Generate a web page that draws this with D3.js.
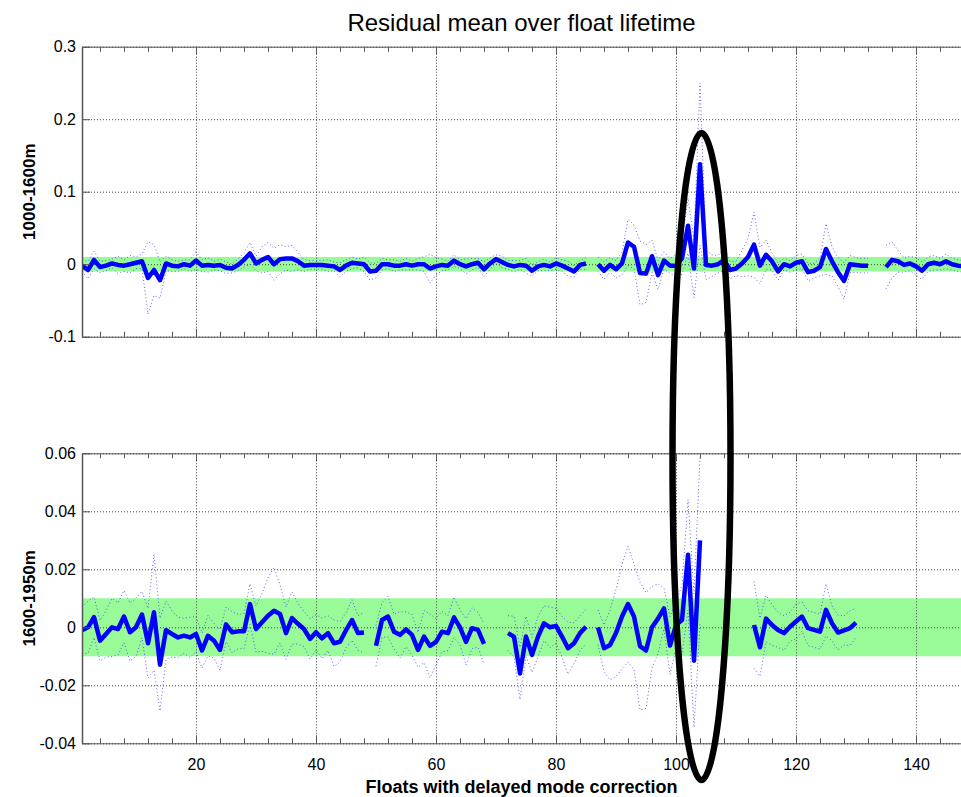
<!DOCTYPE html>
<html>
<head>
<meta charset="utf-8">
<script src="https://cdn.jsdelivr.net/npm/d3@7"></script>
<style>
  body { margin: 0; background: #fff; }
  svg { display: block; font-family: "Liberation Sans", Arial, sans-serif; }
  .grid line { stroke: #444; stroke-dasharray: 1,2; }
  .grid path { display: none; }
  .frame path, .frame line { stroke: #555; }
  .ticklbl text { font-size: 16px; fill: #000; }
</style>
</head>
<body>
<svg id="chart"></svg>
<script>
// float index
var floats = d3.range(1, 149);

// 1000-1600m residual mean and spread
var topMean = [
  -0.002, -0.008, 0.006, -0.004, -0.002, 0.001, -0.001, -0.002, 0, 0.002,
  0.004, -0.019, -0.008, -0.022, 0.001, -0.002, -0.003, 0, -0.002, 0.005,
  -0.002, -0.001, -0.002, -0.001, -0.005, -0.006, -0.001, 0.006, 0.015, 0.001,
  0.006, 0.010, 0, 0.007, 0.008, 0.008, 0.004, -0.002, -0.001, -0.001,
  -0.001, -0.002, -0.003, -0.008, -0.002, 0.002, 0.001, 0, -0.010, -0.009,
  0, 0, -0.002, -0.002, 0, -0.002, 0, 0, -0.006, -0.003,
  -0.001, -0.002, 0.005, 0, -0.003, 0, 0.002, -0.007, 0.001, 0.007,
  0.003, -0.001, -0.003, -0.001, -0.002, -0.009, -0.003, -0.001, -0.003, 0.001,
  -0.002, -0.006, -0.010, -0.001, 0.001, null, 0, -0.009, -0.001, -0.007,
  0.001, 0.030, 0.024, -0.012, -0.013, 0.011, -0.015, 0.005, -0.002, -0.002,
  0.008, 0.053, -0.006, 0.138, -0.001, -0.002, 0, 0.006, -0.008, -0.006,
  0.001, 0.010, 0.027, -0.002, 0.013, 0.004, -0.010, 0, -0.003, 0.002,
  0.004, -0.011, -0.009, -0.004, 0.021, 0.004, -0.011, -0.023, 0, -0.001,
  -0.002, -0.002, null, null, -0.004, 0.006, 0.004, -0.001, 0.001, -0.003,
  -0.009, 0, 0.002, 0, 0.004, 0, -0.002, -0.003
];
var topStd = [
  0.008, 0.012, 0.012, 0.008, 0.007, 0.006, 0.012, 0.008, 0.012, 0.008,
  0.010, 0.050, 0.035, 0.025, 0.010, 0.008, 0.007, 0.006, 0.008, 0.012,
  0.008, 0.010, 0.006, 0.008, 0.008, 0.006, 0.008, 0.010, 0.015, 0.010,
  0.018, 0.020, 0.022, 0.020, 0.016, 0.018, 0.012, 0.008, 0.006, 0.006,
  0.006, 0.008, 0.006, 0.010, 0.008, 0.008, 0.006, 0.010, 0.012, 0.010,
  0.008, 0.006, 0.008, 0.006, 0.008, 0.006, 0.008, 0.010, 0.020, 0.012,
  0.008, 0.006, 0.008, 0.006, 0.010, 0.008, 0.006, 0.010, 0.008, 0.006,
  0.008, 0.006, 0.008, 0.006, 0.010, 0.008, 0.006, 0.008, 0.006, 0.008,
  0.008, 0.010, 0.008, 0.006, 0.008, null, 0.010, 0.012, 0.010, 0.012,
  0.016, 0.032, 0.030, 0.044, 0.040, 0.022, 0.020, 0.012, 0.010, 0.015,
  0.022, 0.038, 0.040, 0.112, 0.020, 0.015, 0.012, 0.015, 0.012, 0.010,
  0.018, 0.026, 0.045, 0.025, 0.020, 0.012, 0.012, 0.008, 0.008, 0.010,
  0.010, 0.012, 0.010, 0.012, 0.035, 0.020, 0.020, 0.025, 0.012, 0.010,
  0.010, 0.010, null, null, 0.030, 0.025, 0.015, 0.010, 0.010, 0.012,
  0.012, 0.010, 0.010, 0.008, 0.010, 0.008, 0.008, 0.008
];

// 1600-1950m residual mean and spread
var botMean = [
  -0.001, 0, 0.0035, -0.0046, -0.0023, 0, -0.0006, 0.0037, -0.0017, 0,
  0.0044, -0.0055, 0.0052, -0.0129, -0.001, -0.0023, -0.0035, -0.0029, -0.0035, -0.0023,
  -0.008, -0.0029, -0.0046, -0.0078, 0.001, -0.0017, -0.0014, -0.0014, 0.008, -0.0006,
  0.0017, 0.004, 0.0057, 0.0046, -0.002, 0.0032, 0.0012, -0.0006, -0.004, -0.0017,
  -0.0038, -0.002, -0.0055, -0.005, -0.001, 0.0025, -0.002, -0.0018, null, -0.0064,
  0.0025, 0.0037, -0.0015, -0.0026, -0.0007, -0.0026, -0.0078, -0.0032, -0.0064, -0.005,
  -0.0015, -0.002, 0.0034, 0, -0.005, -0.0003, -0.0009, -0.0057, null, null,
  null, -0.002, -0.0032, -0.0159, -0.0032, -0.0095, -0.0032, 0.0014, 0, 0.0005,
  -0.0032, -0.0072, -0.0055, -0.002, 0.0002, null, 0, -0.0072, -0.0061, -0.002,
  0.0037, 0.008, 0.0037, -0.0065, -0.008, 0, 0.003, 0.0065, -0.0063, 0.0008,
  0.0025, 0.025, -0.0115, 0.030, null, null, null, null, null, null,
  null, null, 0.0008, -0.0069, 0.003, 0.0008, -0.0009, -0.002, 0.0002, 0.002,
  0.0037, -0.0003, -0.0009, -0.0015, 0.006, 0.0014, -0.0018, -0.0011, -0.0003, 0.0016,
  null, null, null, null, null, null, null, null, null, null,
  null, null, null, null, null, null, null, null
];
var botStd = [
  0.008, 0.009, 0.007, 0.007, 0.008, 0.010, 0.009, 0.009, 0.010, 0.010,
  0.008, 0.012, 0.020, 0.016, 0.010, 0.008, 0.007, 0.006, 0.007, 0.006,
  0.006, 0.007, 0.006, 0.007, 0.006, 0.007, 0.006, 0.006, 0.007, 0.008,
  0.010, 0.013, 0.015, 0.010, 0.009, 0.009, 0.007, 0.006, 0.007, 0.006,
  0.007, 0.006, 0.008, 0.007, 0.006, 0.007, 0.006, 0.007, null, 0.007,
  0.006, 0.007, 0.006, 0.008, 0.006, 0.007, 0.006, 0.009, 0.011, 0.008,
  0.007, 0.006, 0.007, 0.006, 0.008, 0.007, 0.006, 0.007, null, null,
  null, 0.006, 0.007, 0.009, 0.007, 0.006, 0.007, 0.006, 0.007, 0.006,
  0.007, 0.009, 0.007, 0.006, 0.006, null, 0.006, 0.008, 0.012, 0.015,
  0.018, 0.020, 0.018, 0.022, 0.020, 0.014, 0.012, 0.007, 0.010, 0.008,
  0.012, 0.019, 0.023, 0.029, null, null, null, null, null, null,
  null, null, 0.015, 0.010, 0.008, 0.007, 0.006, 0.006, 0.005, 0.006,
  0.005, 0.006, 0.006, 0.006, 0.009, 0.006, 0.006, 0.005, 0.006, 0.005,
  null, null, null, null, null, null, null, null, null, null,
  null, null, null, null, null, null, null, null
];

var xMajor = [20, 40, 60, 80, 100, 120, 140];
var xMinor = d3.range(4, 148, 4);
var topTicks = [-0.1, 0, 0.1, 0.2, 0.3];
var botTicks = [-0.04, -0.02, 0, 0.02, 0.04, 0.06];
var topBand = [-0.01, 0.01];
var botBand = [-0.01, 0.01];

var W = 961, H = 797;
var left = 82, right = 961;

var svg = d3.select("#chart").attr("width", W).attr("height", H);

var x = d3.scaleLinear().domain([1, 147.5]).range([left, right]);

svg.append("defs").append("clipPath").attr("id", "clip")
  .append("rect").attr("x", left).attr("y", 0).attr("width", right - left).attr("height", H);

// plain hyphen for negatives, like the original
var yfmt = (d) => (d === 0 ? "0" : String(+d.toFixed(2)));

function drawPanel(mean, std, yDomain, yRange, ticks, band, label, showXLabels) {
  var y = d3.scaleLinear().domain(yDomain).range(yRange);
  var g = svg.append("g");
  var top = yRange[1], bottom = yRange[0];

  // green tolerance band
  g.append("rect")
    .attr("x", left).attr("width", right - left)
    .attr("y", y(band[1])).attr("height", y(band[0]) - y(band[1]))
    .attr("fill", "#98fb98");

  // grid
  g.append("g").attr("class", "grid")
    .attr("transform", `translate(0,${bottom})`)
    .call(d3.axisBottom(x).tickValues(xMajor).tickSize(-(bottom - top)).tickFormat(""));
  g.append("g").attr("class", "grid")
    .attr("transform", `translate(${left},0)`)
    .call(d3.axisLeft(y).tickValues(ticks).tickSize(-(right - left)).tickFormat(""));

  // data
  var data = floats.map((f, i) => ({ f: f, m: mean[i], s: std[i] }));
  var ok = (d) => d.m != null && d.s != null;
  var dl = g.append("g").attr("clip-path", "url(#clip)");
  [1, -1].forEach(function (sign) {
    dl.append("path")
      .datum(data)
      .attr("fill", "none")
      .attr("stroke", "#3a3aff")
      .attr("stroke-opacity", 0.8)
      .attr("stroke-width", 1)
      .attr("stroke-dasharray", "1,2.5")
      .attr("d", d3.line().defined(ok).x((d) => x(d.f)).y((d) => y(d.m + sign * d.s)));
  });
  dl.append("path")
    .datum(data)
    .attr("fill", "none")
    .attr("stroke", "#0000ff")
    .attr("stroke-width", 4.5)
    .attr("stroke-linejoin", "round")
    .attr("d", d3.line().defined((d) => d.m != null).x((d) => x(d.f)).y((d) => y(d.m)));

  // frame + ticks
  g.append("g").attr("class", "frame")
    .attr("transform", `translate(0,${top})`)
    .call(d3.axisTop(x).tickValues(xMinor).tickSizeInner(-5).tickSizeOuter(0).tickFormat(""));
  g.append("g").attr("class", "frame")
    .attr("transform", `translate(0,${top})`)
    .call(d3.axisTop(x).tickValues(xMajor).tickSizeInner(-8).tickSizeOuter(0).tickFormat(""))
    .select(".domain").remove();
  g.append("g").attr("class", "frame")
    .attr("transform", `translate(0,${bottom})`)
    .call(d3.axisBottom(x).tickValues(xMinor).tickSizeInner(-5).tickSizeOuter(0).tickFormat(""));
  var xb = g.append("g").attr("class", "frame ticklbl")
    .attr("transform", `translate(0,${bottom})`)
    .call(d3.axisBottom(x).tickValues(xMajor).tickSizeInner(-8).tickSizeOuter(0).tickPadding(15)
      .tickFormat(showXLabels ? d3.format("d") : ""));
  xb.select(".domain").remove();

  var ya = g.append("g").attr("class", "frame ticklbl")
    .attr("transform", `translate(${left},0)`)
    .call(d3.axisLeft(y).tickValues(ticks).tickSizeInner(-8).tickSizeOuter(0).tickPadding(6)
      .tickFormat(yfmt));
  ya.select(".domain").attr("stroke-width", 1.5);

  // y label
  svg.append("text")
    .attr("transform", `translate(35,${(top + bottom) / 2}) rotate(-90)`)
    .attr("text-anchor", "middle")
    .attr("font-size", 17).attr("font-weight", "bold")
    .text(label);
}

drawPanel(topMean, topStd, [-0.1, 0.3], [336.7, 46.7], topTicks, topBand, "1000-1600m", false);
drawPanel(botMean, botStd, [-0.04, 0.06], [743.3, 453.3], botTicks, botBand, "1600-1950m", true);

// title and x label
svg.append("text")
  .attr("x", (left + right) / 2).attr("y", 31)
  .attr("text-anchor", "middle").attr("font-size", 24)
  .text("Residual mean over float lifetime");
svg.append("text")
  .attr("x", (left + right) / 2).attr("y", 793)
  .attr("text-anchor", "middle").attr("font-size", 18).attr("font-weight", "bold")
  .text("Floats with delayed mode correction");

// highlight ellipse
svg.append("ellipse")
  .attr("cx", x(104.25)).attr("cy", 456.5)
  .attr("rx", 29).attr("ry", 323.5)
  .attr("fill", "none").attr("stroke", "#000").attr("stroke-width", 6.5);
</script>
</body>
</html>
